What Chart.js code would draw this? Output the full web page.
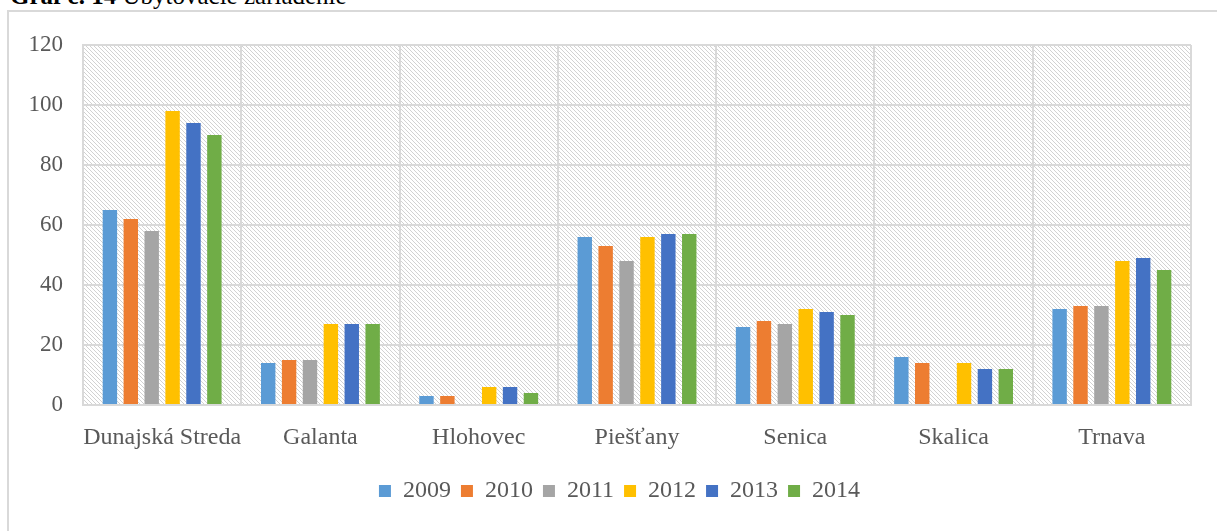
<!DOCTYPE html>
<html>
<head>
<meta charset="utf-8">
<script src="https://cdn.jsdelivr.net/npm/chart.js@4.4.0/dist/chart.umd.min.js"></script>
<style>
  html, body { margin: 0; padding: 0; background: #fff; }
  body { width: 1217px; height: 531px; position: relative; overflow: hidden; }
  .title {
    position: absolute; left: 10px; top: -17px;
    font-family: "Liberation Serif", serif; font-size: 25px; line-height: 1;
    color: #000; white-space: nowrap;
  }
  .frame {
    position: absolute; left: 7px; top: 10px; width: 1300px; height: 600px;
    border-left: 2px solid #d9d9d9; border-top: 2px solid #d9d9d9;
  }
  .wrap { position: absolute; left: 0; top: 0; width: 1217px; height: 531px; }
</style>
</head>
<body>
<div class="title"><b>Graf č. 14</b> Ubytovacie zariadenie</div>
<div class="frame"></div>
<div class="wrap"><canvas id="chart" width="1217" height="531"></canvas></div>
<script>
const districts = ["Dunajská Streda", "Galanta", "Hlohovec", "Piešťany", "Senica", "Skalica", "Trnava"];
const years = ["2009", "2010", "2011", "2012", "2013", "2014"];
const yearColors = ["#5b9bd5", "#ed7d31", "#a5a5a5", "#ffc000", "#4472c4", "#70ad47"];

const v2009 = [65, 14, 3, 56, 26, 16, 32];
const v2010 = [62, 15, 3, 53, 28, 14, 33];
const v2011 = [58, 15, 0, 48, 27, 0, 33];
const v2012 = [98, 27, 6, 56, 32, 14, 48];
const v2013 = [94, 27, 6, 57, 31, 12, 49];
const v2014 = [90, 27, 4, 57, 30, 12, 45];
const series = [v2009, v2010, v2011, v2012, v2013, v2014];

const yTicks = [0, 20, 40, 60, 80, 100, 120];

const FONT = "'Liberation Serif', 'Times New Roman', serif";
const TEXT = "#595959";
const GRID = "#d9d9d9";

// diagonal hatch for the plot background
function makeHatch(ctx) {
  const tile = document.createElement("canvas");
  tile.width = 4;
  tile.height = 4;
  const t = tile.getContext("2d");
  t.fillStyle = "#fff";
  t.fillRect(0, 0, 4, 4);
  t.fillStyle = "#d2d2d2";
  for (let i = 0; i < 4; i++) t.fillRect(i, i, 1, 1);
  return ctx.createPattern(tile, "repeat");
}

const hatchBackground = {
  id: "hatchBackground",
  beforeDraw(chart) {
    const { ctx, chartArea: a } = chart;
    ctx.save();
    ctx.fillStyle = makeHatch(ctx);
    ctx.fillRect(a.left, a.top, a.right - a.left, a.bottom - a.top);
    ctx.restore();
  },
};

// legend in the original sits a bit right of the canvas centre
const legendShift = {
  id: "legendShift",
  afterLayout(chart) {
    chart.legend.left += 24;
    chart.legend.right += 24;
  },
};

new Chart(document.getElementById("chart"), {
  type: "bar",
  data: {
    labels: districts,
    datasets: years.map((y, i) => ({
      label: y,
      data: series[i],
      backgroundColor: yearColors[i],
      borderWidth: 0,
      categoryPercentage: 0.792,
      barPercentage: 0.69,
    })),
  },
  plugins: [hatchBackground, legendShift],
  options: {
    responsive: false,
    animation: false,
    layout: {
      padding: { left: 0, top: 45, right: 26, bottom: 18 },
    },
    plugins: {
      legend: {
        position: "bottom",
        labels: {
          boxWidth: 12,
          boxHeight: 12,
          padding: 10,
          color: TEXT,
          font: { family: FONT, size: 24 },
        },
      },
      tooltip: { enabled: false },
    },
    scales: {
      x: {
        grid: { color: GRID, lineWidth: 2, drawTicks: false, offset: true },
        border: { color: GRID, width: 2 },
        ticks: {
          color: TEXT,
          padding: 18,
          maxRotation: 0,
          autoSkip: false,
          font: { family: FONT, size: 24 },
        },
        afterFit(scale) {
          scale.height = 64;
        },
      },
      y: {
        min: 0,
        max: 120,
        afterBuildTicks(scale) {
          scale.ticks = yTicks.map((v) => ({ value: v }));
        },
        grid: { color: GRID, lineWidth: 2, drawTicks: false },
        border: { color: GRID, width: 2 },
        ticks: {
          color: TEXT,
          padding: 20,
          font: { family: FONT, size: 23 },
        },
        afterFit(scale) {
          scale.width = 83;
        },
      },
    },
  },
});
</script>
</body>
</html>
